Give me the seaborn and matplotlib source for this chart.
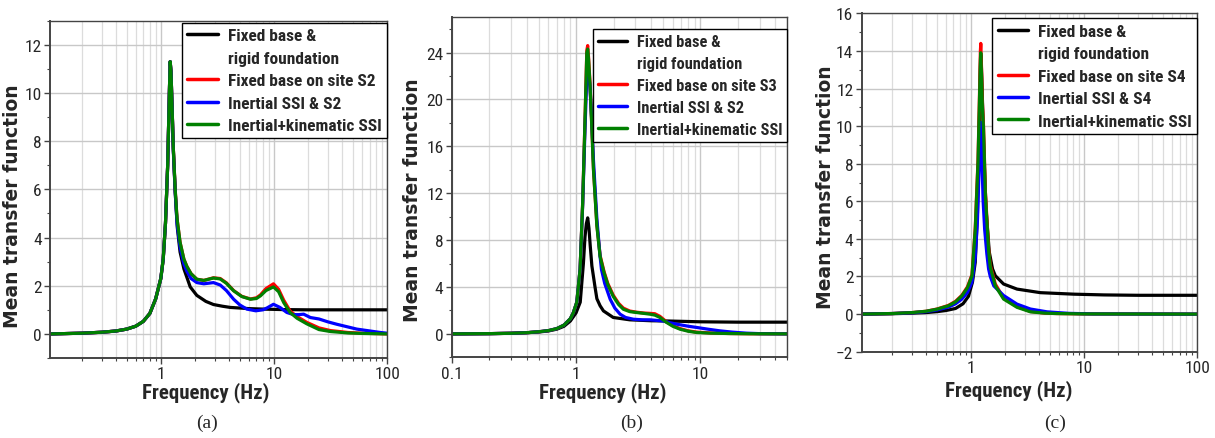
import matplotlib
matplotlib.use("Agg")
import matplotlib.pyplot as plt
from matplotlib.lines import Line2D
from matplotlib.ticker import FixedLocator, MultipleLocator, LogLocator, NullFormatter
import seaborn as sns

# ---------------- panel (a) : site S2 ----------------
fa_black = [0.105, 0.2, 0.3, 0.4, 0.5, 0.6, 0.7, 0.8, 0.9, 1.0, 1.05, 1.1, 1.15, 1.19, 1.21, 1.23, 1.26, 1.29,
            1.34, 1.4, 1.48, 1.6, 1.82, 2.08, 2.5, 2.92, 3.5, 4.1, 6, 8, 12, 20, 50, 100]
va_black = [0.0, 0.03, 0.07, 0.12, 0.2, 0.32, 0.52, 0.85, 1.45, 2.3, 3.1, 4.6, 7.0, 10.0, 11.3, 10.9, 9.3, 7.7,
            5.9, 4.4, 3.4, 2.7, 1.95, 1.6, 1.35, 1.22, 1.15, 1.1, 1.05, 1.03, 1.01, 1.0, 1.0, 1.0]

fa_ssi = [0.105, 0.2, 0.3, 0.4, 0.5, 0.6, 0.7, 0.8, 0.9, 1.0, 1.05, 1.1, 1.15, 1.19, 1.21, 1.23, 1.26, 1.29,
          1.34, 1.39, 1.48, 1.6, 1.7, 1.85, 2.08, 2.4, 2.92, 3.35, 3.8, 4.4, 5.2, 6.2, 7.0, 7.6, 8.5, 9.9,
          11.0, 12.2, 13.9, 16, 19.5, 25, 31.5, 45, 60, 100]
va_red = [0.0, 0.03, 0.07, 0.12, 0.2, 0.32, 0.52, 0.85, 1.45, 2.3, 3.1, 4.6, 7.0, 10.0, 11.3, 10.9, 9.3, 7.7,
          6.0, 4.8, 3.8, 3.1, 2.8, 2.5, 2.27, 2.22, 2.33, 2.3, 2.12, 1.8, 1.56, 1.45, 1.5, 1.62, 1.88, 2.08,
          1.85, 1.4, 0.95, 0.72, 0.48, 0.25, 0.14, 0.06, 0.03, 0.0]
va_green = [0.0, 0.03, 0.07, 0.12, 0.2, 0.32, 0.52, 0.85, 1.45, 2.3, 3.1, 4.6, 7.0, 10.0, 11.3, 10.9, 9.3, 7.7,
            6.0, 4.8, 3.8, 3.1, 2.8, 2.5, 2.27, 2.22, 2.32, 2.28, 2.1, 1.79, 1.55, 1.44, 1.47, 1.58, 1.8, 1.95,
            1.75, 1.3, 0.89, 0.65, 0.42, 0.18, 0.1, 0.04, 0.02, 0.0]
fa_blue = [0.105, 0.2, 0.3, 0.4, 0.5, 0.6, 0.7, 0.8, 0.9, 1.0, 1.05, 1.1, 1.15, 1.19, 1.21, 1.23, 1.26, 1.29,
           1.34, 1.39, 1.48, 1.6, 1.7, 1.85, 2.08, 2.4, 2.92, 3.35, 3.8, 4.4, 5.0, 5.76, 6.9, 8.0, 8.7, 9.9,
           11.3, 13.0, 14.9, 16.5, 18.3, 21, 25, 30, 36, 54, 87, 100]
va_blue = [0.0, 0.03, 0.07, 0.12, 0.2, 0.32, 0.52, 0.85, 1.45, 2.3, 3.1, 4.6, 7.0, 10.0, 11.3, 10.9, 9.3, 7.6,
           5.9, 4.6, 3.6, 2.9, 2.6, 2.3, 2.13, 2.08, 2.13, 2.03, 1.8, 1.44, 1.2, 1.03, 0.96, 1.0, 1.08, 1.23,
           1.1, 0.89, 0.8, 0.8, 0.82, 0.68, 0.62, 0.5, 0.4, 0.2, 0.06, 0.03]

# ---------------- panel (b) : site S3 ----------------
fb_black = [0.1, 0.2, 0.3, 0.4, 0.5, 0.6, 0.7, 0.8, 0.9, 1.0, 1.08, 1.145, 1.18, 1.21, 1.24, 1.27, 1.3, 1.34,
            1.42, 1.47, 1.56, 1.66, 1.99, 2.7, 4, 5.4, 10, 20, 50]
vb_black = [0.0, 0.02, 0.05, 0.1, 0.16, 0.25, 0.4, 0.65, 1.1, 1.8, 2.7, 6.0, 8.3, 9.4, 9.9, 9.0, 7.5, 5.8,
            4.0, 3.0, 2.4, 1.96, 1.4, 1.2, 1.12, 1.1, 1.03, 1.0, 1.0]
fb_ssi = [0.1, 0.2, 0.3, 0.4, 0.5, 0.6, 0.7, 0.8, 0.9, 0.95, 1.013, 1.077, 1.13, 1.18, 1.22, 1.24, 1.26, 1.295,
          1.34, 1.38, 1.47, 1.56, 1.68, 1.8, 1.99, 2.2, 2.4, 2.7, 3.07, 3.5, 3.93, 4.3, 4.72, 5.0, 5.35, 6.0,
          6.85, 8, 9.3, 12, 17, 25, 50]
vb_red = [0.0, 0.02, 0.05, 0.1, 0.18, 0.28, 0.45, 0.75, 1.3, 1.8, 2.7, 5.5, 11.2, 18.3, 24.2, 24.6, 23.6, 21.4,
          17.6, 14.1, 9.3, 6.7, 5.3, 4.3, 3.3, 2.6, 2.2, 1.95, 1.85, 1.78, 1.75, 1.72, 1.5, 1.28, 1.02, 0.7,
          0.45, 0.26, 0.15, 0.08, 0.03, 0.01, 0.0]
vb_green = [0.0, 0.02, 0.05, 0.1, 0.18, 0.28, 0.45, 0.75, 1.3, 1.8, 2.7, 5.5, 11.2, 18.3, 24.0, 24.3, 23.4, 21.2,
            17.5, 14.0, 9.2, 6.6, 5.2, 4.2, 3.2, 2.5, 2.1, 1.9, 1.82, 1.75, 1.68, 1.6, 1.4, 1.2, 0.97, 0.65,
            0.4, 0.22, 0.12, 0.06, 0.03, 0.01, 0.0]
fb_blue = [0.1, 0.2, 0.3, 0.4, 0.5, 0.6, 0.7, 0.8, 0.9, 0.95, 1.013, 1.077, 1.13, 1.18, 1.22, 1.24, 1.26, 1.295,
           1.34, 1.38, 1.47, 1.56, 1.6, 1.7, 1.88, 2.05, 2.26, 2.5, 2.89, 3.4, 3.93, 5.0, 5.7, 6.43, 8, 9.3,
           11.5, 14.3, 18, 23.5, 30, 50]
vb_blue = [0.0, 0.02, 0.05, 0.1, 0.18, 0.28, 0.45, 0.75, 1.3, 1.8, 2.7, 5.5, 11.0, 17.5, 22.0, 23.0, 22.5, 21.0,
           18.0, 14.8, 9.8, 6.6, 5.5, 4.3, 2.96, 2.2, 1.68, 1.4, 1.25, 1.2, 1.2, 1.1, 0.95, 0.83, 0.65, 0.55,
           0.4, 0.26, 0.15, 0.06, 0.02, 0.0]

# ---------------- panel (c) : site S4 ----------------
fc_black = [0.108, 0.2, 0.3, 0.4, 0.5, 0.6, 0.73, 0.85, 0.95, 1.03, 1.09, 1.14, 1.18, 1.21, 1.22, 1.23, 1.26,
            1.3, 1.36, 1.45, 1.55, 1.64, 1.94, 2.55, 4.1, 8.1, 15, 30, 100]
vc_black = [0.0, 0.02, 0.05, 0.08, 0.13, 0.19, 0.3, 0.55, 0.95, 1.7, 2.75, 5.4, 9.5, 13.0, 13.8, 13.5, 11.5,
            8.5, 5.5, 3.3, 2.4, 2.04, 1.6, 1.33, 1.14, 1.06, 1.02, 1.0, 1.0]
fc_ssi = [0.108, 0.2, 0.3, 0.4, 0.5, 0.63, 0.73, 0.83, 0.93, 1.02, 1.09, 1.153, 1.19, 1.21, 1.22, 1.24, 1.26,
          1.29, 1.34, 1.43, 1.48, 1.64, 1.94, 2.55, 3.35, 4.5, 5.7, 10, 100]
vc_red = [0.0, 0.03, 0.08, 0.15, 0.27, 0.46, 0.68, 1.0, 1.45, 2.1, 4.6, 8.2, 11.9, 14.0, 14.4, 13.0, 11.3,
          10.0, 6.5, 3.5, 2.6, 1.6, 0.85, 0.4, 0.14, 0.05, 0.03, 0.01, 0.0]
vc_green = [0.0, 0.03, 0.08, 0.15, 0.26, 0.44, 0.65, 0.97, 1.4, 2.04, 4.5, 8.07, 11.6, 13.5, 13.9, 12.6, 11.0,
            9.85, 6.3, 3.4, 2.5, 1.5, 0.8, 0.36, 0.12, 0.05, 0.03, 0.01, 0.0]
fc_blue = [0.108, 0.2, 0.3, 0.4, 0.5, 0.63, 0.73, 0.83, 0.93, 1.02, 1.09, 1.14, 1.18, 1.21, 1.22, 1.23, 1.25,
           1.28, 1.32, 1.38, 1.43, 1.48, 1.59, 1.94, 2.55, 3.35, 4.7, 7.3, 12, 100]
vc_blue = [0.0, 0.03, 0.07, 0.13, 0.22, 0.37, 0.55, 0.8, 1.15, 1.7, 3.0, 5.0, 7.8, 9.8, 10.2, 10.0, 8.1,
           6.0, 4.5, 3.2, 2.4, 2.0, 1.5, 0.99, 0.53, 0.27, 0.12, 0.04, 0.01, 0.0]

labels_a = ["Fixed base on site S2", "Inertial SSI & S2"]
labels_b = ["Fixed base on site S3", "Inertial SSI & S2"]
labels_c = ["Fixed base on site S4", "Inertial SSI & S4"]
captions = ["(a)", "(b)", "(c)"]

sns.set_theme(style="ticks")
narrow = ["Roboto Condensed", "Liberation Sans", "DejaVu Sans"]

fig = plt.figure(figsize=(12.15, 4.39), dpi=100)

# axes boxes (figure fractions)
boxes = [[0.0412, 0.1822, 0.2774, 0.7684],
         [0.3718, 0.1838, 0.2762, 0.7742],
         [0.7092, 0.1966, 0.2762, 0.7708]]

panels = [
    dict(data=[(fa_black, va_black), (fa_ssi, va_red), (fa_blue, va_blue), (fa_ssi, va_green)],
         labels=labels_a, xlim=(0.105, 100), ylim=(-1, 13), ystep=2, ymin=1,
         xticks=[1, 10, 100], xlab=(0.463, -0.068), ylab=(-0.082, 0.452),
         leg_y=0.993, leg_size=12.5),
    dict(data=[(fb_black, vb_black), (fb_ssi, vb_red), (fb_blue, vb_blue), (fb_ssi, vb_green)],
         labels=labels_b, xlim=(0.1, 50), ylim=(-2, 27), ystep=4, ymin=2,
         xticks=[0.1, 1, 10], xlab=(0.451, -0.072), ylab=(-0.088, 0.466),
         leg_y=0.965, leg_size=11.8),
    dict(data=[(fc_black, vc_black), (fc_ssi, vc_red), (fc_blue, vc_blue), (fc_ssi, vc_green)],
         labels=labels_c, xlim=(0.108, 100), ylim=(-2, 16), ystep=2, ymin=1,
         xticks=[1, 10, 100], xlab=(0.439, -0.081), ylab=(-0.08, 0.488),
         leg_y=0.985, leg_size=12.5),
]
colors = ["black", "#ff0000", "#0000ff", "#008000"]
cap_x = [207, 632, 1055]

for i, p in enumerate(panels):
    ax = fig.add_axes(boxes[i])
    for (f, v), c in zip(p["data"], colors):
        sns.lineplot(x=f, y=v, ax=ax, color=c, lw=2.3, estimator=None, sort=False)

    ax.set_xscale("log")
    ax.set_xlim(*p["xlim"])
    ax.set_ylim(*p["ylim"])
    ax.xaxis.set_major_locator(FixedLocator(p["xticks"]))
    ax.set_xticklabels([("%g" % t) for t in p["xticks"]])
    ax.xaxis.set_minor_locator(LogLocator(base=10, subs=range(2, 10)))
    ax.xaxis.set_minor_formatter(NullFormatter())
    ax.yaxis.set_major_locator(MultipleLocator(p["ystep"]))
    ax.yaxis.set_minor_locator(MultipleLocator(p["ymin"]))

    ax.grid(which="major", axis="both", color="#c8c8c8", lw=1.0)
    ax.grid(which="minor", axis="x", color="#dcdcdc", lw=0.9)
    ax.set_axisbelow(True)
    for s in ax.spines.values():
        s.set_color("#444444")
        s.set_linewidth(1.0)
    ax.spines["left"].set_linewidth(1.4)
    ax.spines["bottom"].set_linewidth(1.4)
    ax.tick_params(which="major", direction="out", length=4, width=1, color="#444444",
                   labelsize=12.5, pad=2, top=False, right=False)
    ax.tick_params(which="minor", direction="out", length=2.5, width=0.8, color="#444444",
                   top=False, right=False)
    for t in ax.get_xticklabels() + ax.get_yticklabels():
        t.set_family(narrow)

    ax.set_ylabel("Mean transfer function", fontsize=13.5, fontweight="bold", family="DejaVu Sans")
    ax.yaxis.set_label_coords(*p["ylab"])
    ax.set_xlabel("Frequency (Hz)", fontsize=15, fontweight="bold", family=narrow)
    ax.xaxis.set_label_coords(*p["xlab"])

    handles = [Line2D([], [], color="black", lw=2.5),
               Line2D([], [], color="none"),
               Line2D([], [], color=colors[1], lw=2.5),
               Line2D([], [], color=colors[2], lw=2.5),
               Line2D([], [], color=colors[3], lw=2.5)]
    texts = ["Fixed base &", "rigid foundation", p["labels"][0], p["labels"][1], "Inertial+kinematic SSI"]
    leg = ax.legend(handles, texts, loc="upper right", bbox_to_anchor=(1.0, p["leg_y"]),
                    prop={"family": narrow, "weight": "bold", "size": p["leg_size"]},
                    frameon=True, fancybox=False, edgecolor="black", framealpha=1,
                    handlelength=1.75, handletextpad=0.6, labelspacing=0.42,
                    borderpad=0.3, borderaxespad=0.0)
    leg.get_frame().set_linewidth(1.0)

    fig.text(cap_x[i] / 1215, 1 - 423 / 439, captions[i], ha="center", va="center",
             fontsize=14, family="Liberation Serif")

plt.savefig("out.png", dpi=100)
